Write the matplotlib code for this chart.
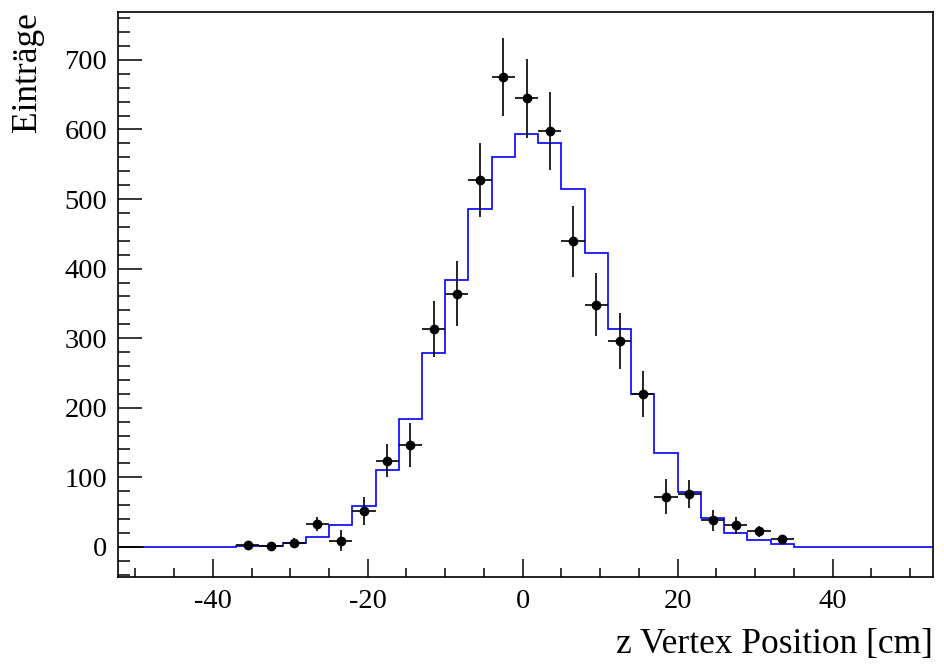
import numpy as np
import matplotlib
matplotlib.use("Agg")
import matplotlib.pyplot as plt
from matplotlib.ticker import MultipleLocator

plt.rcParams["font.family"] = ["Liberation Serif", "DejaVu Serif"]
plt.rcParams["axes.unicode_minus"] = False

# Simulation histogram (blue), bin edges every 3 cm from -49 to 53
mc_edges = [-49, -46, -43, -40, -37, -34, -31, -28, -25, -22, -19, -16, -13,
            -10, -7, -4, -1, 2, 5, 8, 11, 14, 17, 20, 23, 26, 29, 32, 35,
            38, 41, 44, 47, 50, 53]
mc_counts = [0, 0, 0, 0, 1, 1.5, 6, 14, 32, 59, 111, 184, 278, 383, 485,
             560, 594, 580, 515, 422, 313, 220, 135, 79, 41, 20, 9.6, 4.3,
             0, 0, 0, 0, 0, 0]

# Data points (black)
data_x = [-35.5, -32.5, -29.5, -26.5, -23.5, -20.5, -17.5, -14.5, -11.5,
          -8.5, -5.5, -2.5, 0.5, 3.5, 6.5, 9.5, 12.5, 15.5, 18.5, 21.5,
          24.5, 27.5, 30.5, 33.5]
data_y = [2, 0.5, 6, 33, 9, 51, 124, 146, 313, 364, 527, 675, 645, 598,
          439, 348, 296, 220, 72, 76, 38, 31, 22, 11.5]
data_err = [2, 1, 6, 10, 15, 20, 24, 32, 40, 47, 53, 56, 57, 56, 51, 45,
            40, 33, 25, 20, 15, 12, 8, 6]
bin_half_width = 1.5

x_label = "z Vertex Position [cm]"
y_label = "Einträge"

fig = plt.figure(figsize=(9.44, 6.64), dpi=100)
ax = fig.add_axes([0.1253, 0.1315, 0.8634, 0.8509])

xmin, xmax = -52.2, 53.0
ax.set_xlim(xmin, xmax)
ax.set_ylim(-43, 769.4)

ax.stairs(mc_counts, mc_edges, color="blue", lw=1.2, baseline=None)
ax.plot([xmin, mc_edges[0]], [0, 0], color="black", lw=1.2)
ax.errorbar(data_x, data_y, xerr=bin_half_width, yerr=data_err, fmt="o",
            color="black", ms=6, elinewidth=1.2, capsize=0, zorder=3)

ax.xaxis.set_major_locator(MultipleLocator(20))
ax.xaxis.set_minor_locator(MultipleLocator(5))
ax.yaxis.set_major_locator(MultipleLocator(100))
ax.yaxis.set_minor_locator(MultipleLocator(20))
ax.tick_params(axis="x", which="major", direction="in", length=13, width=1.1,
               labelsize=20.5, pad=9)
ax.tick_params(axis="x", which="minor", direction="in", length=6.5, width=1.1)
ax.tick_params(axis="y", which="major", direction="in", length=17.5, width=1.1,
               labelsize=20.5, pad=8)
ax.tick_params(axis="y", which="minor", direction="in", length=8.5, width=1.1)
for s in ax.spines.values():
    s.set_linewidth(1.2)

ax.set_xlabel(x_label, fontsize=25.5, loc="right")
ax.xaxis.set_label_coords(1.0, -0.09)
ax.set_ylabel(y_label, fontsize=25.5, loc="top")
ax.yaxis.set_label_coords(-0.091, 1.0)

fig.savefig("out.png", dpi=100)
